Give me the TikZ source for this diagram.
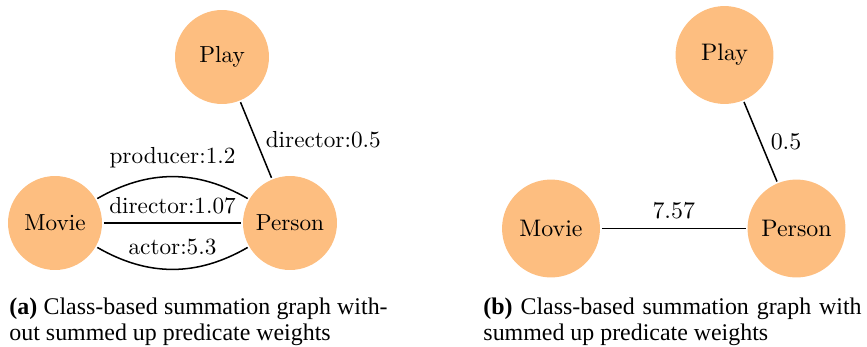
\documentclass[tikz,border=0pt]{standalone}
\usepackage{fontspec}
\newfontfamily\capfont{Liberation Serif}
\definecolor{classfill}{RGB}{253,190,128}
\tikzset{
  classnode/.style={circle, fill=classfill, minimum size=40.5pt, inner sep=0pt, outer sep=0.8pt, font=\fontsize{10}{12}\selectfont},
  classnodeb/.style={classnode, minimum size=42.2pt, font=\fontsize{10.3}{12}\selectfont},
  link/.style={line width=0.65pt, black},
  wlabel/.style={font=\fontsize{10}{12}\selectfont, inner sep=0pt},
  wlabelb/.style={font=\fontsize{10.3}{12}\selectfont, inner sep=0pt},
  captext/.style={anchor=base west, inner sep=0pt, text width=163pt, align=justify, font=\capfont\fontsize{10.3}{11.6}\selectfont}
}
\begin{document}
\begin{tikzpicture}[x=0.4310pt, y=-0.4310pt]
\useasboundingbox (0,0) rectangle (867,346);

% (a) graph with separate predicate edges
\node[classnode] (playA)   at (222,57)  {Play};
\node[classnode] (movieA)  at (55,223)  {Movie};
\node[classnode] (personA) at (290,223) {Person};

\draw[link] (playA) -- node[wlabel, midway, anchor=base west, xshift=3.9pt, yshift=-3.4pt] {director:0.5} (personA);
\draw[link] (movieA) to[bend left=30] node[wlabel, midway, anchor=base, yshift=5.6pt] {producer:1.2} (personA);
\draw[link] (movieA) -- node[wlabel, midway, anchor=base, yshift=3.9pt] {director:1.07} (personA);
\draw[link] (movieA) to[bend right=30] node[wlabel, midway, anchor=base, yshift=6.5pt] {actor:5.3} (personA);

\node[captext] (capA) at (9,314) {\textbf{(a)} Class-based summation graph with-\linebreak out summed up predicate weights};

% (b) graph with summed weights
\node[classnodeb] (playB)   at (724.5,55)  {Play};
\node[classnodeb] (movieB)  at (551,228.5) {Movie};
\node[classnodeb] (personB) at (796.5,228.5) {Person};

\draw[link] (playB) -- node[wlabelb, midway, anchor=base west, xshift=4.1pt, yshift=-3.5pt] {0.5} (personB);
\draw[link] (movieB) -- node[wlabelb, midway, anchor=base, yshift=4.1pt] {7.57} (personB);

\node[captext] (capB) at (483,314) {\textbf{(b)} Class-based summation graph with\linebreak summed up predicate weights};
\end{tikzpicture}
\end{document}
